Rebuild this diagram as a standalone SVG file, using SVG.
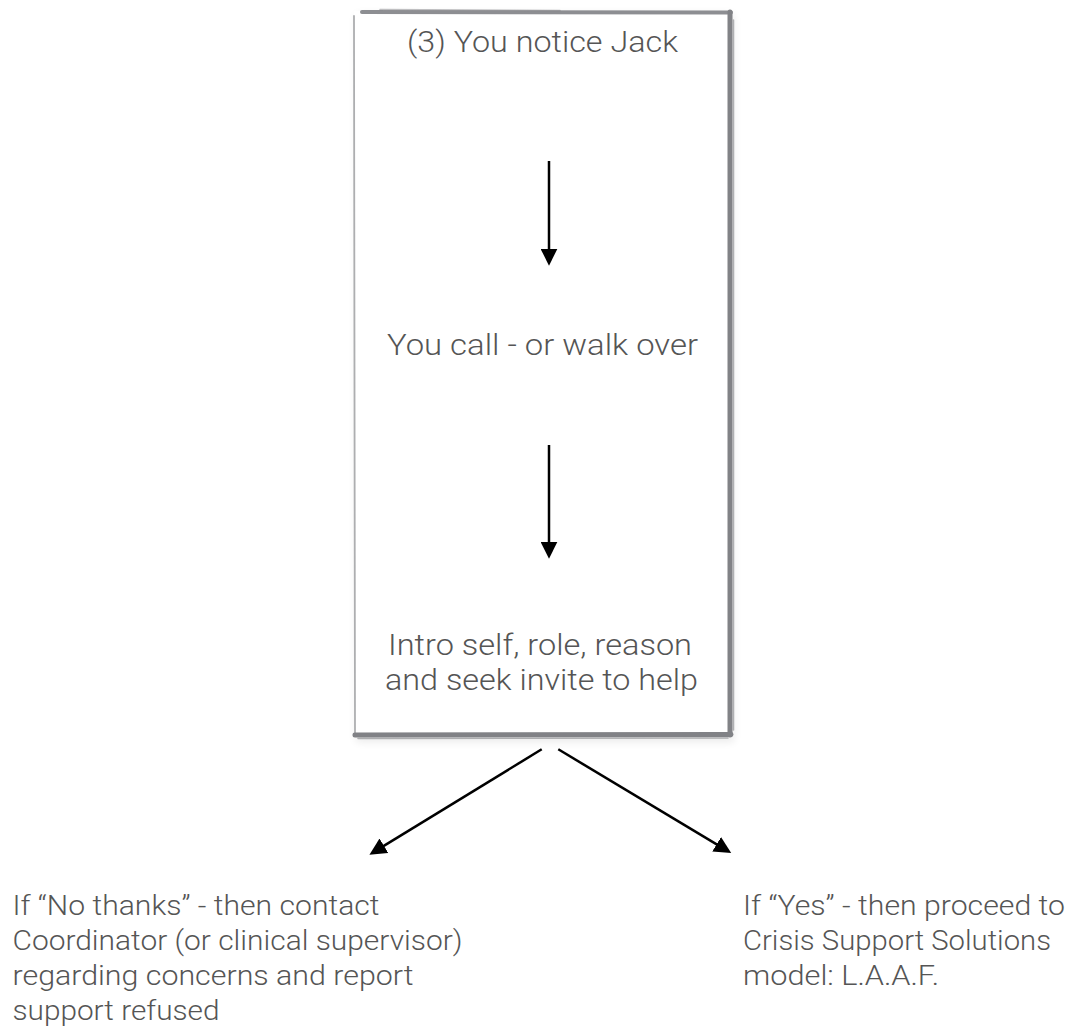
<svg xmlns="http://www.w3.org/2000/svg" width="1077" height="1027" viewBox="0 0 1077 1027">
<style>
text{font-family:Roboto,"Liberation Sans",Arial,sans-serif;font-weight:300;fill:#555}
.box{font-size:29px}
.lbl{font-size:28px}
.edge{fill:none;stroke:#818286;stroke-linecap:round}
.conn{stroke:#000;stroke-width:2.5;fill:none}
</style>
<defs>
<marker id="ah" markerUnits="userSpaceOnUse" markerWidth="17" markerHeight="17" viewBox="0 0 16 16" refX="6" refY="8" orient="auto">
<path d="M0,0 L16,8 L0,16 z" fill="#000"/>
</marker>
<filter id="sh" x="-10%" y="-10%" width="120%" height="120%">
<feGaussianBlur stdDeviation="4"/>
</filter>
</defs>
<rect width="1077" height="1027" fill="#fff"/>
<g id="box">
<rect x="356" y="14" width="378" height="728" fill="#000" opacity="0.08" filter="url(#sh)"/>
<rect x="354" y="11" width="377" height="724" fill="#fff"/>
<path class="edge" d="M362,12 L731,12.5" stroke-width="4" opacity="0.9"/>
<path class="edge" d="M380,9.5 L560,10.5" stroke-width="1.5" opacity="0.5"/>
<path class="edge" d="M354,16 L355,735" stroke-width="1.8" opacity="0.65"/>
<path class="edge" d="M730,12 L730,735" stroke-width="5"/>
<path class="edge" d="M733.5,20 L733.5,730" stroke-width="1.5" opacity="0.6"/>
<path class="edge" d="M355,735 L731,734.5" stroke-width="5"/>
<path class="edge" d="M358,738.5 L728,738" stroke-width="1.5" opacity="0.6"/>
</g>
<g id="n1"><text class="box" x="407" y="52" textLength="271" lengthAdjust="spacingAndGlyphs">(3) You notice Jack</text></g>
<g id="n2"><text class="box" x="387" y="355" textLength="311" lengthAdjust="spacingAndGlyphs">You call - or walk over</text></g>
<g id="n3">
<text class="box" x="388" y="655" textLength="304" lengthAdjust="spacingAndGlyphs">Intro self, role, reason</text>
<text class="box" x="385" y="690" textLength="313" lengthAdjust="spacingAndGlyphs">and seek invite to help</text>
</g>
<g id="n4">
<text class="lbl" x="12.5" y="915" textLength="367" lengthAdjust="spacingAndGlyphs">If “No thanks” - then contact</text>
<text class="lbl" x="12.5" y="950" textLength="450" lengthAdjust="spacingAndGlyphs">Coordinator (or clinical supervisor)</text>
<text class="lbl" x="12.5" y="985" textLength="401" lengthAdjust="spacingAndGlyphs">regarding concerns and report</text>
<text class="lbl" x="12.5" y="1020" textLength="207" lengthAdjust="spacingAndGlyphs">support refused</text>
</g>
<g id="n5">
<text class="lbl" x="743" y="915" textLength="322" lengthAdjust="spacingAndGlyphs">If “Yes” - then proceed to</text>
<text class="lbl" x="743" y="950" textLength="308" lengthAdjust="spacingAndGlyphs">Crisis Support Solutions</text>
<text class="lbl" x="743" y="985" textLength="196" lengthAdjust="spacingAndGlyphs">model: L.A.A.F.</text>
</g>
<g id="connectors">
<line class="conn" x1="549" y1="161" x2="549" y2="255" marker-end="url(#ah)"/>
<line class="conn" x1="549" y1="445" x2="549" y2="548" marker-end="url(#ah)"/>
<line class="conn" x1="541.7" y1="749.3" x2="378.5" y2="849.1" marker-end="url(#ah)"/>
<line class="conn" x1="558.3" y1="749.3" x2="722.1" y2="847.6" marker-end="url(#ah)"/>
</g>
</svg>
